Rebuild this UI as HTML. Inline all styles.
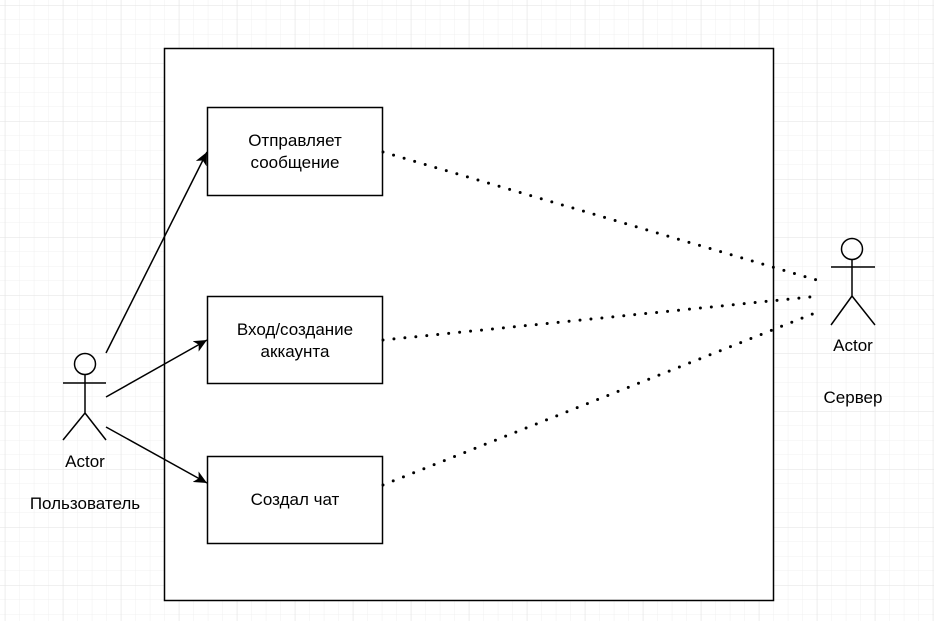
<!DOCTYPE html>
<html><head><meta charset="utf-8"><style>
body{margin:0;width:934px;height:621px;overflow:hidden;background:#fff;}
</style></head><body>
<svg width="934" height="621" xmlns="http://www.w3.org/2000/svg" font-family="Liberation Sans, sans-serif">
<defs>
<pattern id="minor" x="4.8" y="5" width="14.5" height="14.5" patternUnits="userSpaceOnUse">
<path d="M0 0H14.5M0 0V14.5" stroke="#f0f0f0" stroke-width="1" fill="none"/>
</pattern>
<pattern id="major" x="4.8" y="5" width="58" height="58" patternUnits="userSpaceOnUse">
<path d="M0 0H58M0 0V58" stroke="#e2e2e2" stroke-width="1" fill="none"/>
</pattern>
<marker id="ar" markerWidth="14" markerHeight="12" refX="13" refY="6" orient="auto" markerUnits="userSpaceOnUse">
<path d="M0 0L13 6L0 12L3.5 6Z" fill="#000"/>
</marker>
</defs>
<rect width="934" height="621" fill="url(#minor)"/>
<rect width="934" height="621" fill="url(#major)"/>
<rect x="164.5" y="48.5" width="609" height="552" fill="#fff" stroke="#000" stroke-width="1.5"/>
<g fill="#fff" stroke="#000" stroke-width="1.5">
<rect x="207.5" y="107.5" width="175" height="88"/>
<rect x="207.5" y="296.5" width="175" height="87"/>
<rect x="207.5" y="456.5" width="175" height="87"/>
</g>
<g font-size="17" text-anchor="middle" fill="#000">
<text x="295" y="146">Отправляет</text>
<text x="295" y="168">сообщение</text>
<text x="295" y="335">Вход/создание</text>
<text x="295" y="357">аккаунта</text>
<text x="295" y="505">Создал чат</text>
<text x="85" y="467">Actor</text>
<text x="85" y="509">Пользователь</text>
<text x="853" y="351">Actor</text>
<text x="853" y="403">Сервер</text>
</g>
<g stroke="#000" stroke-width="1.5" fill="none">
<circle cx="85" cy="364" r="10.5"/>
<path d="M63 383H106M85 375V413M85 413L63 440M85 413L106 440"/>
<circle cx="852" cy="249" r="10.5"/>
<path d="M831 267H875M852 260V296M852 296L831 325M852 296L875 325"/>
<path d="M106 353L207 152" marker-end="url(#ar)"/>
<path d="M106 397L207 340" marker-end="url(#ar)"/>
<path d="M106 427L207 483" marker-end="url(#ar)"/>
</g>
<g stroke="#000" stroke-width="3" stroke-dasharray="0 11" stroke-linecap="round" fill="none">
<path d="M383 152L820 281"/>
<path d="M383 340L820 296"/>
<path d="M383 485L820 311"/>
</g>
</svg>
</body></html>
